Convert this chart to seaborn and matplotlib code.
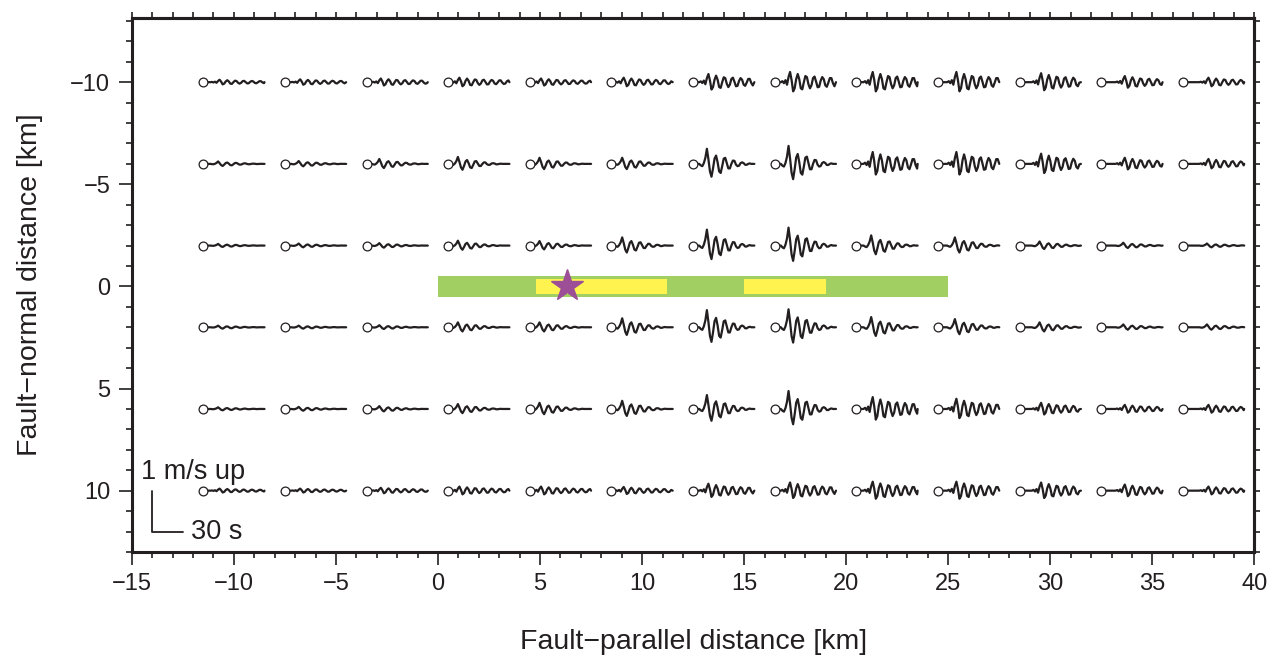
import numpy as np
import pandas as pd
import matplotlib.pyplot as plt
import seaborn as sns
from matplotlib.patches import Rectangle
from matplotlib.ticker import MultipleLocator, NullFormatter

# station grid (km)
station_x = [-11.5, -7.5, -3.5, 0.5, 4.5, 8.5, 12.5, 16.5, 20.5, 24.5, 28.5, 32.5, 36.5]
station_y = [-10, -6, -2, 2, 6, 10]

# peak vertical velocity (m/s), one row per station_y
peak_vel = [
    [0.06, 0.07, 0.09, 0.11, 0.09, 0.11, 0.20, 0.25, 0.25, 0.25, 0.22, 0.15, 0.11],
    [0.06, 0.07, 0.12, 0.17, 0.15, 0.15, 0.37, 0.44, 0.29, 0.29, 0.25, 0.15, 0.12],
    [0.04, 0.05, 0.06, 0.12, 0.11, 0.20, 0.39, 0.44, 0.25, 0.20, 0.10, 0.07, 0.05],
    [0.04, 0.04, 0.05, 0.12, 0.12, 0.22, 0.42, 0.44, 0.25, 0.20, 0.12, 0.07, 0.07],
    [0.04, 0.05, 0.07, 0.12, 0.15, 0.20, 0.34, 0.44, 0.29, 0.25, 0.15, 0.10, 0.10],
    [0.05, 0.05, 0.07, 0.10, 0.10, 0.09, 0.17, 0.20, 0.22, 0.22, 0.20, 0.15, 0.10],
]
# time of first motion after trace start (s), per column
onset_s = [7, 6, 5, 2, 2, 3, 6, 6, 7, 9, 12, 14, 16]
# waveform shape per station: 0 = short pulse, 1 = long ringing
shape_id = [
    [1, 1, 1, 1, 1, 1, 1, 1, 1, 1, 1, 1, 1],
    [0, 0, 0, 0, 0, 0, 0, 0, 1, 1, 1, 1, 1],
    [0, 0, 0, 0, 0, 0, 0, 0, 0, 0, 0, 0, 0],
    [0, 0, 0, 0, 0, 0, 0, 0, 0, 0, 0, 0, 0],
    [0, 0, 0, 0, 0, 0, 0, 0, 1, 1, 1, 1, 1],
    [1, 1, 1, 1, 1, 1, 1, 1, 1, 1, 1, 1, 1],
]
# normalised waveform shapes sampled every 1.5 s
pulse_shape = [0.0, -0.1, -0.15, 0.05, 0.4, 1.0, 0.3, -0.5, -0.85, -0.3, 0.35, 0.55, 0.1, -0.5,
               -0.6, -0.15, 0.35, 0.4, 0.05, -0.3, -0.3, 0.0, 0.22, 0.2, -0.05, -0.15, -0.12,
               0.05, 0.1, 0.05, -0.06, -0.06, 0.0, 0.03, 0.0]
ring_shape = [0.0, 0.1, -0.1, 0.2, -0.25, 0.5, 1.0, 0.2, -0.9, -0.6, 0.3, 0.8, 0.3, -0.6, -0.7,
              0.0, 0.6, 0.5, -0.2, -0.6, -0.3, 0.4, 0.55, 0.05, -0.5, -0.45, 0.15, 0.5, 0.3,
              -0.3, -0.45, -0.05, 0.4, 0.4, -0.1, -0.4, -0.3, 0.2, 0.4, 0.2, -0.3, -0.35, 0.0,
              0.3, 0.25, -0.15, -0.3, -0.1, 0.2, 0.2, -0.05, -0.2, -0.1, 0.1]
shapes = [pulse_shape, ring_shape]
sample_dt = 1.5  # s

# fault plane and asperities (km)
fault_x = [0.0, 25.0]
fault_w = [-0.5, 0.5]
asperity_x = [[4.8, 11.2], [15.0, 19.0]]
asperity_w = [-0.35, 0.35]
hypo_x, hypo_y = 6.3, 0.0

trace_len = 60.0          # s
km_per_s = 1.5 / 30.0     # 30 s -> 1.5 km
km_per_ms = 2.0           # 1 m/s -> 2 km

# build traces
recs = []
for i, y0 in enumerate(station_y):
    for j, x0 in enumerate(station_x):
        sid = f'{i}_{j}'
        shp = shapes[shape_id[i][j]]
        t = [0.0, onset_s[j]]
        v = [0.0, 0.0]
        for k, s in enumerate(shp):
            tk = onset_s[j] + k * sample_dt
            if tk >= trace_len:
                break
            t.append(tk)
            v.append(s * peak_vel[i][j])
        t.append(trace_len)
        v.append(0.0)
        for tt, vv in zip(t, v):
            recs.append({'sta': sid, 'x': x0 + tt * km_per_s, 'y': y0 - vv * km_per_ms})
df = pd.DataFrame(recs)
sta_df = pd.DataFrame([{'x': x0, 'y': y0} for y0 in station_y for x0 in station_x])

sns.set_theme(style='ticks')
plt.rcParams['font.family'] = ['Liberation Sans', 'DejaVu Sans']
plt.rcParams['axes.unicode_minus'] = True

fig = plt.figure(figsize=(12.8, 6.61), dpi=100)
ax = fig.add_axes([0.103, 0.165, 0.877, 0.808])

ax.add_patch(Rectangle((fault_x[0], fault_w[0]), fault_x[1] - fault_x[0], fault_w[1] - fault_w[0],
                       facecolor='#a2cf62', edgecolor='none', zorder=1))
for a in asperity_x:
    ax.add_patch(Rectangle((a[0], asperity_w[0]), a[1] - a[0], asperity_w[1] - asperity_w[0],
                           facecolor='#fff34f', edgecolor='none', zorder=1.5))
ax.plot([hypo_x], [hypo_y], marker='*', ms=24, color='#9c4f97', mec='#9c4f97', zorder=4)

sns.lineplot(data=df, x='x', y='y', units='sta', estimator=None, sort=False,
             color='#231f20', lw=1.6, ax=ax, zorder=2)
sns.scatterplot(data=sta_df, x='x', y='y', marker='o', s=40, facecolor='white',
                edgecolor='#231f20', linewidth=0.9, ax=ax, zorder=3)

# scale bar
ax.plot([-14.0, -14.0, -12.5], [10.0, 12.0, 12.0], color='#231f20', lw=1.3)
ax.text(-14.55, 9.1, '1 m/s up', fontsize=19.5, va='center', ha='left', color='#231f20')
ax.text(-12.1, 12.0, '30 s', fontsize=19.5, va='center', ha='left', color='#231f20')

ax.set_xlim(-15, 40)
ax.set_ylim(13, -13.15)
ax.xaxis.set_major_locator(MultipleLocator(5))
ax.xaxis.set_minor_locator(MultipleLocator(1))
ax.yaxis.set_major_locator(MultipleLocator(5))
ax.yaxis.set_minor_locator(MultipleLocator(1))
ax.tick_params(which='major', direction='out', length=9.5, width=1.2, labelsize=17,
               color='#231f20', labelcolor='#231f20', pad=6)
ax.tick_params(which='minor', direction='out', length=4.5, width=1.2, color='#231f20')

for sp in ax.spines.values():
    sp.set_linewidth(2.2)
    sp.set_color('#231f20')

secx = ax.secondary_xaxis('top')
secx.xaxis.set_major_locator(MultipleLocator(1))
secx.xaxis.set_major_formatter(NullFormatter())
secx.tick_params(direction='out', length=4.5, width=1.2, color='#231f20')
secy = ax.secondary_yaxis('right')
secy.yaxis.set_major_locator(MultipleLocator(1))
secy.yaxis.set_major_formatter(NullFormatter())
secy.tick_params(direction='out', length=4.5, width=1.2, color='#231f20')
for s in (secx, secy):
    for sp in s.spines.values():
        sp.set_linewidth(2.2)
        sp.set_color('#231f20')

ax.set_xlabel('Fault\u2212parallel distance [km]', fontsize=20.5, labelpad=24, color='#231f20')
ax.set_ylabel('Fault\u2212normal distance [km]', fontsize=20.5, labelpad=20, color='#231f20')

fig.savefig('out.png', dpi=100)
